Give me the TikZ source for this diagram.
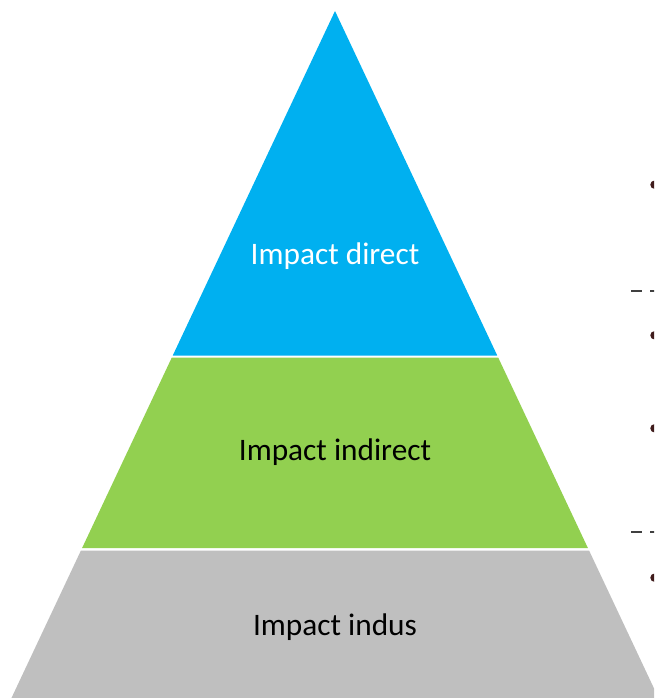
\documentclass[tikz,border=0pt]{standalone}
\usepackage{fontspec}
\setmainfont{Carlito}
\definecolor{pblue}{HTML}{00B0F0}
\definecolor{pgreen}{HTML}{92D050}
\definecolor{pgray}{HTML}{BFBFBF}
\definecolor{bulletc}{RGB}{64,28,28}
\definecolor{dashc}{HTML}{404040}
\tikzset{
  band/.style={draw=none},
  label/.style={anchor=base, inner sep=0pt, font=\fontsize{31.3}{37}\selectfont},
  divider/.style={draw=dashc, line width=2pt, dash pattern=on 11pt off 8pt},
  bulletdot/.style={fill=bulletc, draw=none}
}
\begin{document}
\begin{tikzpicture}[x=1pt,y=-1pt]
\useasboundingbox (0,0) rectangle (654,698);
\clip (0,0) rectangle (654,698);
% bands
\fill[pblue]  (335,11) -- (497.24,355.5) -- (172.76,355.5) -- cycle;
\fill[pgreen] (171.82,357.5) -- (498.18,357.5) -- (587.89,548) -- (82.11,548) -- cycle;
\fill[pgray]  (80.93,550.5) -- (589.07,550.5) -- (658.53,698) -- (11.47,698) -- cycle;
% labels
\node[label, text=white] (direct) at (335,264) {Impact direct};
\node[label, text=black] (indirect) at (335,460.7) {Impact indirect};
\node[label, text=black] (indus) at (335,635.7) {Impact indus};
% dividers at right
\coordinate (d1a) at (631,290.7);
\coordinate (d1b) at (670,290.7);
\coordinate (d2a) at (631,532.3);
\coordinate (d2b) at (670,532.3);
\draw[divider] (d1a) -- (d1b);
\draw[divider] (d2a) -- (d2b);
% bullets (clipped by the right edge)
\fill[bulletdot] (654.5,184.7) circle (4.2);
\fill[bulletdot] (654.5,335.3) circle (4.2);
\fill[bulletdot] (654.5,428.3) circle (4.2);
\fill[bulletdot] (654.5,577.7) circle (4.2);
\end{tikzpicture}
\end{document}
